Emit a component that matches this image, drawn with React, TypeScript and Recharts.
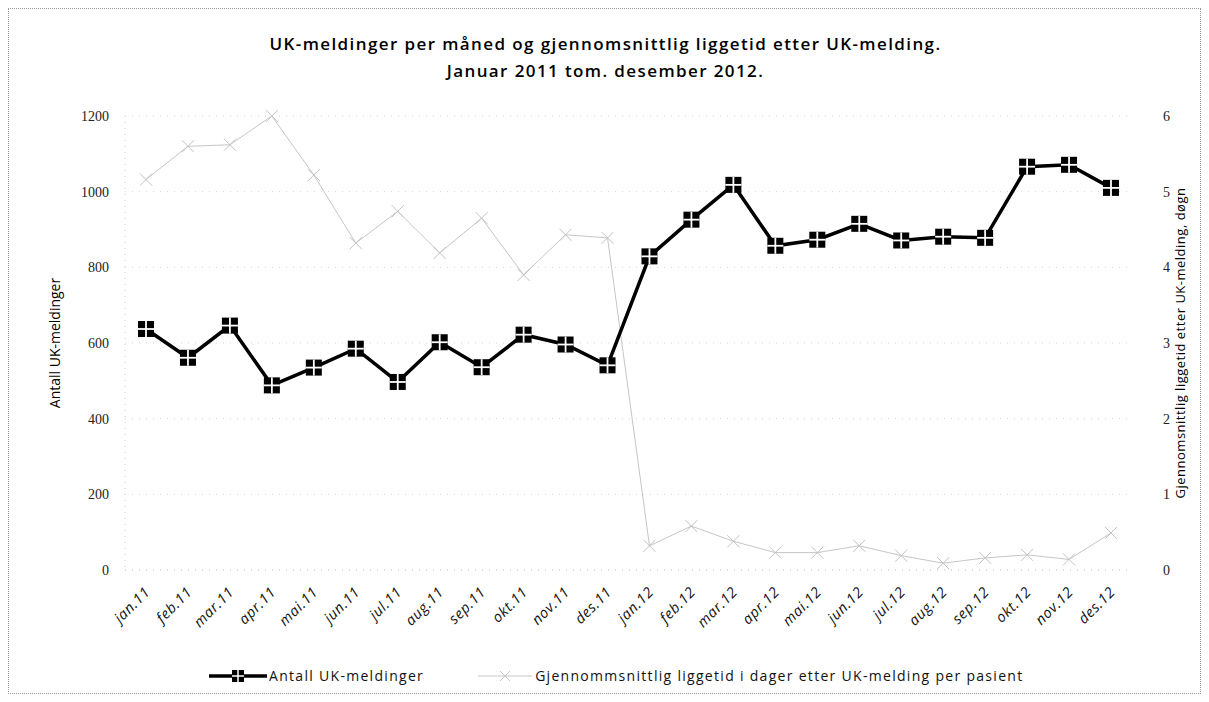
import React from 'react';
import { ComposedChart, Line, XAxis, YAxis, CartesianGrid } from 'recharts';

const months = [
    'jan.11', 'feb.11', 'mar.11', 'apr.11', 'mai.11', 'jun.11', 'jul.11', 'aug.11', 'sep.11', 'okt.11', 'nov.11', 'des.11',
    'jan.12', 'feb.12', 'mar.12', 'apr.12', 'mai.12', 'jun.12', 'jul.12', 'aug.12', 'sep.12', 'okt.12', 'nov.12', 'des.12',
];

// Antall UK-meldinger (left axis)
const ukMeldinger = [
    637, 561, 646, 488, 535, 585, 497, 602, 536, 622, 596, 541,
    829, 926, 1018, 857, 873, 915, 871, 881, 878, 1066, 1071, 1010,
];

// Gjennomsnittlig liggetid i dager (right axis)
const liggetid = [
    5.16, 5.6, 5.62, 6.0, 5.22, 4.32, 4.74, 4.19, 4.65, 3.9, 4.43, 4.39,
    0.32, 0.58, 0.38, 0.23, 0.23, 0.32, 0.19, 0.09, 0.16, 0.2, 0.14, 0.49,
];

const leftTicks = [0, 200, 400, 600, 800, 1000, 1200];
const rightTicks = [0, 1, 2, 3, 4, 5, 6];

const chartData = months.map((m, i) => ({
    month: m,
    antall: ukMeldinger[i],
    liggetid: liggetid[i],
}));

const sansFont = '"Open Sans", "DejaVu Sans", sans-serif';
const serifFont = '"Liberation Serif", "DejaVu Serif", serif';

// Square marker split in four by a white cross
const BlockDot = (props: any) => {
    const { cx, cy } = props;
    if (cx == null || cy == null) return null;
    return (
        <g>
            <rect x={cx - 8} y={cy - 8} width={16} height={16} fill="#000" />
            <line x1={cx - 8} y1={cy} x2={cx + 8} y2={cy} stroke="#fff" strokeWidth={1.8} />
            <line x1={cx} y1={cy - 8} x2={cx} y2={cy + 8} stroke="#fff" strokeWidth={1.8} />
        </g>
    );
};

const CrossDot = (props: any) => {
    const { cx, cy } = props;
    if (cx == null || cy == null) return null;
    return (
        <g stroke="#c2c2c2" strokeWidth={1}>
            <line x1={cx - 6} y1={cy - 6} x2={cx + 6} y2={cy + 6} />
            <line x1={cx - 6} y1={cy + 6} x2={cx + 6} y2={cy - 6} />
        </g>
    );
};

const MonthTick = (props: any) => {
    const { x, y, payload } = props;
    return (
        <g transform={`translate(${x + 5},${y + 15})`}>
            <text
                transform="rotate(-45)"
                textAnchor="end"
                fontSize={14.5}
                fontFamily={sansFont}
                fontStyle="italic"
                letterSpacing={0.6}
                fill="#111"
            >
                {payload.value}
            </text>
        </g>
    );
};

export default function App() {
    return (
        <div style={{ position: 'relative', width: 1193, height: 686, background: '#fff', border: '1px dotted #999', boxSizing: 'border-box' }}>
            <div
                style={{
                    position: 'absolute', top: 21, left: 0, width: 1193, textAlign: 'center',
                    fontFamily: sansFont, fontWeight: 600, fontSize: 17, letterSpacing: 1.4, lineHeight: '27px', color: '#000',
                }}
            >
                UK-meldinger per måned og gjennomsnittlig liggetid etter UK-melding.
                <br />
                Januar 2011 tom. desember 2012.
            </div>

            <ComposedChart
                width={1191}
                height={684}
                data={chartData}
                margin={{ top: 107, right: 0, left: 0, bottom: 41 }}
            >
                <CartesianGrid vertical={false} stroke="#d4d4d4" strokeDasharray="1 6" yAxisId="left" />
                <XAxis
                    dataKey="month"
                    interval={0}
                    padding={{ left: 21, right: 21 }}
                    tick={<MonthTick />}
                    tickLine={false}
                    axisLine={{ stroke: '#cfcfcf', strokeDasharray: '1 6' }}
                    height={82}
                />
                <YAxis
                    yAxisId="left"
                    domain={[0, 1200]}
                    ticks={leftTicks}
                    width={116}
                    tickLine={false}
                    axisLine={{ stroke: '#cfcfcf', strokeDasharray: '1 5' }}
                    tick={{ fontSize: 14, fontFamily: serifFont, fill: '#222' }}
                    tickMargin={10}
                    label={{
                        value: 'Antall UK-meldinger',
                        angle: -90,
                        position: 'insideLeft',
                        offset: 46,
                        style: { fontSize: 14, fontFamily: sansFont, fill: '#000', textAnchor: 'middle' },
                    }}
                />
                <YAxis
                    yAxisId="right"
                    orientation="right"
                    domain={[0, 6]}
                    ticks={rightTicks}
                    width={68}
                    tickLine={false}
                    axisLine={false}
                    tick={{ fontSize: 14, fontFamily: serifFont, fill: '#222' }}
                    tickMargin={25}
                    label={{
                        value: 'Gjennomsnittlig liggetid etter UK-melding, døgn',
                        angle: -90,
                        position: 'insideRight',
                        offset: 20,
                        style: { fontSize: 13, fontFamily: sansFont, fill: '#000', textAnchor: 'middle', letterSpacing: 0.5 },
                    }}
                />
                <Line
                    yAxisId="right"
                    type="linear"
                    dataKey="liggetid"
                    stroke="#c6c6c6"
                    strokeWidth={1}
                    dot={<CrossDot />}
                    activeDot={false}
                    isAnimationActive={false}
                />
                <Line
                    yAxisId="left"
                    type="linear"
                    dataKey="antall"
                    stroke="#000"
                    strokeWidth={3.5}
                    dot={<BlockDot />}
                    activeDot={false}
                    isAnimationActive={false}
                />
            </ComposedChart>

            <div
                style={{
                    position: 'absolute', top: 657, left: 199, display: 'flex', alignItems: 'center',
                    fontFamily: sansFont, fontSize: 14, letterSpacing: 1.3, color: '#111', whiteSpace: 'nowrap',
                }}
            >
                <svg width={60} height={16}>
                    <line x1={1} y1={8} x2={59} y2={8} stroke="#000" strokeWidth={3.5} />
                    <rect x={24} y={2} width={12} height={12} fill="#000" />
                    <line x1={24} y1={8} x2={36} y2={8} stroke="#fff" strokeWidth={1.5} />
                    <line x1={30} y1={2} x2={30} y2={14} stroke="#fff" strokeWidth={1.5} />
                </svg>
                <span style={{ marginLeft: 1 }}>Antall UK-meldinger</span>
                <svg width={58} height={16} style={{ marginLeft: 52 }}>
                    <line x1={2} y1={8} x2={56} y2={8} stroke="#c6c6c6" strokeWidth={1} />
                    <line x1={24} y1={3} x2={34} y2={13} stroke="#c6c6c6" strokeWidth={1} />
                    <line x1={24} y1={13} x2={34} y2={3} stroke="#c6c6c6" strokeWidth={1} />
                </svg>
                <span style={{ marginLeft: 1 }}>Gjennommsnittlig liggetid i dager etter UK-melding per pasient</span>
            </div>
        </div>
    );
}
